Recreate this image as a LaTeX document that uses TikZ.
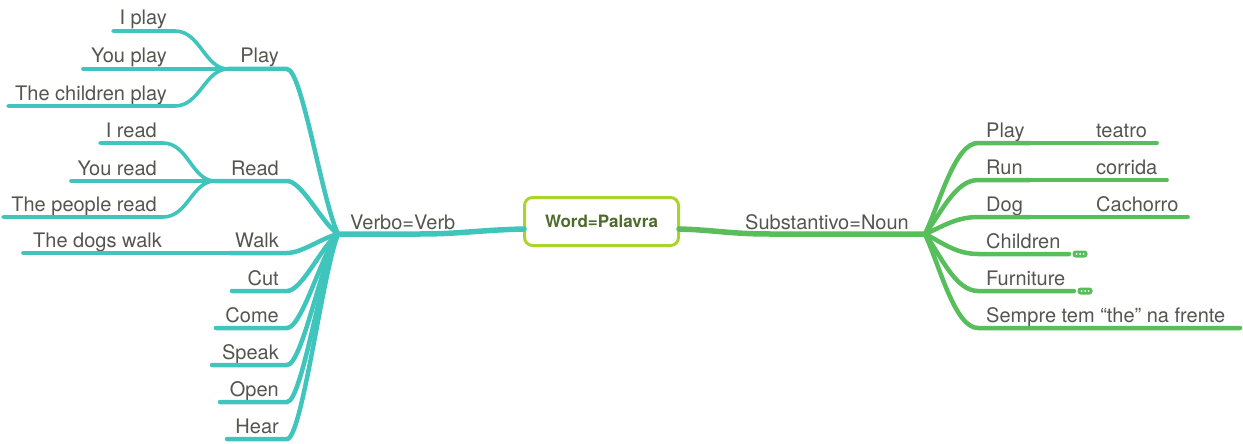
\documentclass[tikz,border=0pt]{standalone}
\usepackage{fontspec}
\setmainfont{TeX Gyre Heros}
\usetikzlibrary{calc}
\definecolor{verbteal}{HTML}{40C5BD}
\definecolor{noungreen}{HTML}{58BD5B}
\definecolor{rootlime}{HTML}{ABD32B}
\definecolor{roottext}{HTML}{4F6B2C}
\definecolor{labelgray}{HTML}{55554F}
\tikzset{
  lbl/.style={font=\fontsize{20}{24}\selectfont, text=labelgray, inner sep=0pt},
  lblL/.style={lbl, anchor=base east},
  lblR/.style={lbl, anchor=base west},
  rootbox/.style={draw=rootlime, line width=3pt, rounded corners=8pt, fill=white,
    minimum width=154pt, minimum height=48pt, inner sep=0pt,
    font=\fontsize{17}{20}\selectfont\bfseries, text=roottext},
  trunk/.style={line width=5.5pt, line cap=round},
  limb/.style={line width=4.5pt, line cap=round},
  twig/.style={line width=3.6pt, line cap=round},
  fold/.style={fill=noungreen, rounded corners=3pt, minimum width=15pt, minimum height=7pt, inner sep=0pt},
}
\begin{document}
\begin{tikzpicture}[x=1pt,y=-1pt]
\useasboundingbox (0,0) rectangle (1243,444);

% central topic
\node[rootbox] (root) at (601.5,221.5) {Word=Palavra};
\coordinate (rootL) at (524,229);
\coordinate (rootR) at (679,229);

% ---------- left side: Verbo=Verb ----------
\coordinate (vhub) at (338,234);
\node[lblR] (verb) at (350,229) {Verbo=Verb};
\draw[verbteal, trunk] (rootL) .. controls (480,230) and (460,234) .. (420,234) -- (vhub);

% first-level verbs: label, line start/end
\foreach \name/\txt/\y/\xs in {play/Play/69/228, read/Read/181/215, walk/Walk/253/230,
    cut/Cut/291/232, come/Come/328/216, speak/Speak/365/212, open/Open/402/220, hear/Hear/439/227}{
  \node[lblL] (\name) at (279,\y-6) {\txt};
  \coordinate (\name-a) at (\xs,\y);
  \coordinate (\name-b) at (287,\y);
  \draw[verbteal, limb] (\name-a) -- (\name-b)
     .. controls (302,\y) and (322,{234+(\y-234)*0.2}) .. (vhub);
}

% Play examples
\node[lblL] (iplay) at (167,25) {I play};
\node[lblL] (youplay) at (167,63) {You play};
\node[lblL] (kidsplay) at (167,100) {The children play};
\coordinate (iplay-a) at (113,31);
\coordinate (youplay-a) at (83,69);
\coordinate (kidsplay-a) at (8,106);
\draw[verbteal, twig] (iplay-a) -- (175,31) .. controls (200,31) and (205,69) .. (play-a);
\draw[verbteal, twig] (youplay-a) -- (play-a);
\draw[verbteal, twig] (kidsplay-a) -- (175,106) .. controls (200,106) and (205,69) .. (play-a);

% Read examples
\node[lblL] (iread) at (157,137) {I read};
\node[lblL] (youread) at (157,175) {You read};
\node[lblL] (peopleread) at (157,211) {The people read};
\coordinate (iread-a) at (100,143);
\coordinate (youread-a) at (71,181);
\coordinate (peopleread-a) at (3,217);
\draw[verbteal, twig] (iread-a) -- (163,143) .. controls (188,143) and (192,181) .. (read-a);
\draw[verbteal, twig] (youread-a) -- (read-a);
\draw[verbteal, twig] (peopleread-a) -- (163,217) .. controls (188,217) and (192,181) .. (read-a);

% Walk example
\node[lblL] (dogswalk) at (162,247) {The dogs walk};
\coordinate (dogswalk-a) at (23,253);
\draw[verbteal, twig] (dogswalk-a) -- (walk-a);

% ---------- right side: Substantivo=Noun ----------
\coordinate (nhub) at (925,234);
\node[lblR] (noun) at (745,229) {Substantivo=Noun};
\draw[noungreen, trunk] (rootR) .. controls (715,230) and (730,234) .. (770,234) -- (nhub);

\foreach \name/\txt/\y/\xe in {nplay/Play/143/1030, nrun/Run/180/1030, ndog/Dog/217/1030,
    nkids/Children/254/1069, nfurn/Furniture/291/1074, nthe/Sempre tem “the” na frente/328/1240}{
  \node[lblR] (\name) at (986,\y-6) {\txt};
  \coordinate (\name-a) at (978,\y);
  \coordinate (\name-b) at (\xe,\y);
  \draw[noungreen, limb] (nhub) .. controls (940,{234+(\y-234)*0.35}) and (955,\y) .. (\name-a) -- (\name-b);
}

% translations
\foreach \name/\txt/\y/\xe in {teatro/teatro/143/1157, corrida/corrida/180/1167, cachorro/Cachorro/217/1188}{
  \node[lblR] (\name) at (1096,\y-6) {\txt};
  \coordinate (\name-b) at (\xe,\y);
}
\draw[noungreen, twig] (nplay-b) -- (teatro-b);
\draw[noungreen, twig] (nrun-b) -- (corrida-b);
\draw[noungreen, twig] (ndog-b) -- (cachorro-b);

% collapsed-branch markers
\foreach \name/\x/\y in {kidsfold/1080/254, furnfold/1085/291}{
  \node[fold] (\name) at (\x,\y) {};
  \foreach \d in {-3.5,0,3.5}
    \fill[white] ($(\name.center)+(\d,0)$) circle (1pt);
}
\end{tikzpicture}
\end{document}
